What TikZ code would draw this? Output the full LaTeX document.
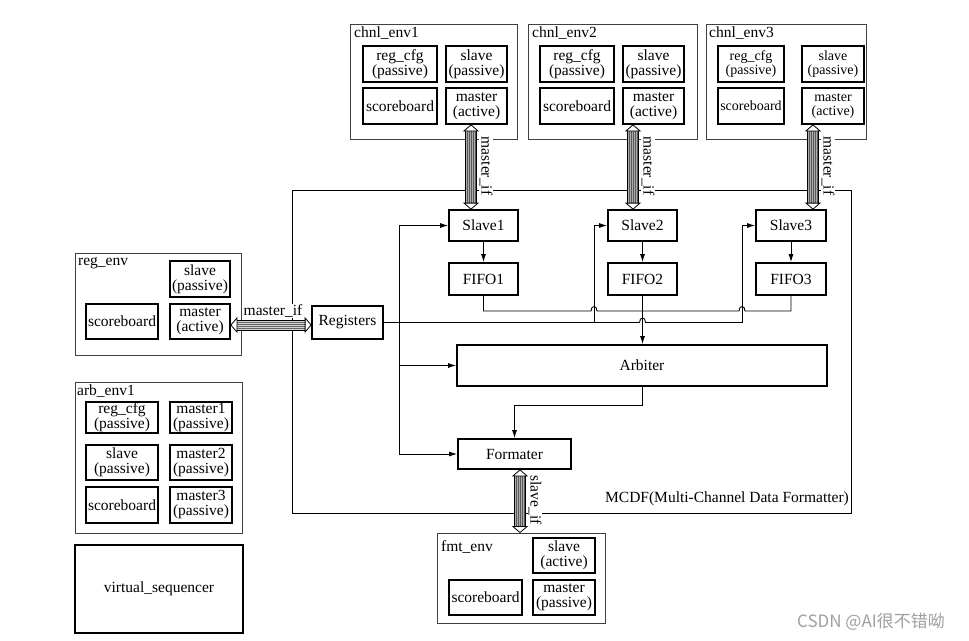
\documentclass[tikz,border=0pt]{standalone}
\usepackage{fontspec}
\setmainfont{Liberation Serif}
\newfontfamily\cjk{Noto Sans CJK SC}
\usetikzlibrary{arrows.meta,calc}
\newcommand\fs{\fontsize{15.5}{15}\selectfont}
\newcommand\fss{\fontsize{14}{14}\selectfont}
\newcommand\bx[7][]{%
  \node[#1, minimum width={(#5)-(#3)}, minimum height={(#6)-(#4)}] (#2) at ({((#3)+(#5))/2},{((#4)+(#6))/2}) {#7};}
\newcommand\vbus[3]{%
  \coordinate (vbx) at (#3,0);
  \coordinate (vbT) at (#1.south -| vbx);
  \coordinate (vbB) at (#2.north -| vbx);
  \fill[gray!65] ($(vbT)+(-5.5,6)$) rectangle ($(vbB)+(5.5,-6)$);
  \foreach \dx in {-3.5,-1.5,0.5,2.5,4.5}{\draw[black!65,line width=0.5pt] ($(vbT)+(\dx,6)$) -- ($(vbB)+(\dx,-6)$);}
  \draw[line width=0.8pt] ($(vbT)+(-5.5,6)$) -- ($(vbB)+(-5.5,-6)$) ($(vbT)+(5.5,6)$) -- ($(vbB)+(5.5,-6)$);
  \draw[fill=white,line width=0.8pt] (vbT) -- ($(vbT)+(7,6)$) -- ($(vbT)+(-7,6)$) -- cycle;
  \draw[fill=white,line width=0.8pt] (vbB) -- ($(vbB)+(7,-6)$) -- ($(vbB)+(-7,-6)$) -- cycle;}
\newcommand\hbus[3]{%
  \coordinate (hby) at (0,#3);
  \coordinate (hbL) at (#1.east |- hby);
  \coordinate (hbR) at (#2.west |- hby);
  \fill[gray!35] ($(hbL)+(6,-5)$) rectangle ($(hbR)+(-6,5)$);
  \foreach \dy in {-3,-1,1,3}{\draw[black!60,line width=0.5pt] ($(hbL)+(6,\dy)$) -- ($(hbR)+(-6,\dy)$);}
  \draw[line width=0.8pt] ($(hbL)+(6,-5)$) -- ($(hbR)+(-6,-5)$) ($(hbL)+(6,5)$) -- ($(hbR)+(-6,5)$);
  \draw[fill=white,line width=0.8pt] (hbL) -- ($(hbL)+(6,-7)$) -- ($(hbL)+(6,7)$) -- cycle;
  \draw[fill=white,line width=0.8pt] (hbR) -- ($(hbR)+(-6,-7)$) -- ($(hbR)+(-6,7)$) -- cycle;}
\tikzset{
  ibox/.style={draw, line width=1.8pt, align=center, inner sep=0pt, font=\fs},
  ibs/.style={ibox, font=\fss},
  ebox/.style={draw=black!75, line width=0.9pt},
  lab/.style={anchor=north west, inner sep=0pt, font=\fs},
  vlab/.style={rotate=-90, fill=white, inner sep=1pt, font=\fs},
  conn/.style={line width=0.9pt, -{Latex[length=8pt,width=5pt]}},
  wire/.style={line width=0.9pt},
}
\begin{document}
\begin{tikzpicture}[x=1pt,y=-1pt]
\useasboundingbox (0,0) rectangle (969,640);
% outer environment boxes
\bx[ebox]{c1}{350}{24}{517}{139}{}
\bx[ebox]{c2}{528}{24}{697}{139}{}
\bx[ebox]{c3}{706}{24}{866}{139}{}
\bx[ebox]{re}{75}{253}{241}{355}{}
\bx[ebox]{ae}{75}{382}{242}{533}{}
\bx[ebox]{fe}{437}{533}{605}{623}{}
\draw[line width=0.9pt] (292,190) rectangle (851,513);
\node[lab] (c1l) at (354,27) {chnl\_env1};
\node[lab] (c2l) at (532,27) {chnl\_env2};
\node[lab] (c3l) at (709,27) {chnl\_env3};
\node[lab] (rel) at (78,257) {reg\_env};
\node[lab] (ael) at (77,385) {arb\_env1};
\node[lab] (fel) at (441,540) {fmt\_env};
% chnl_env1
\bx[ibox]{c1r}{363}{46}{437}{82}{reg\_cfg\\(passive)}
\bx[ibox]{c1s}{446}{46}{507}{82}{slave\\(passive)}
\bx[ibox]{c1b}{363}{88}{437}{124}{scoreboard}
\bx[ibox]{c1m}{446}{88}{507}{124}{master\\(active)}
% chnl_env2
\bx[ibox]{c2r}{540}{46}{614}{82}{reg\_cfg\\(passive)}
\bx[ibox]{c2s}{623}{46}{684}{82}{slave\\(passive)}
\bx[ibox]{c2b}{540}{88}{614}{124}{scoreboard}
\bx[ibox]{c2m}{623}{88}{684}{124}{master\\(active)}
% chnl_env3
\bx[ibs]{c3r}{718}{46}{784}{82}{reg\_cfg\\(passive)}
\bx[ibs]{c3s}{802}{46}{864}{82}{slave\\(passive)}
\bx[ibs]{c3b}{718}{88}{784}{124}{scoreboard}
\bx[ibs]{c3m}{802}{88}{864}{124}{master\\(active)}
% reg_env
\bx[ibox]{res}{170}{261}{230}{297}{slave\\(passive)}
\bx[ibox]{reb}{86}{304}{158}{339}{scoreboard}
\bx[ibox]{rem}{170}{304}{230}{339}{master\\(active)}
% arb_env1
\bx[ibox]{ar}{86}{402}{158}{433}{reg\_cfg\\(passive)}
\bx[ibox]{am1}{170}{402}{232}{433}{master1\\(passive)}
\bx[ibox]{as}{86}{445}{158}{480}{slave\\(passive)}
\bx[ibox]{am2}{170}{445}{232}{480}{master2\\(passive)}
\bx[ibox]{ab}{86}{487}{158}{523}{scoreboard}
\bx[ibox]{am3}{170}{487}{232}{523}{master3\\(passive)}
% virtual sequencer
\bx[ibox]{vs}{75}{545}{243}{633}{virtual\_sequencer}
% fmt_env
\bx[ibox]{fs}{533}{538}{595}{573}{slave\\(active)}
\bx[ibox]{fb}{449}{580}{522}{615}{scoreboard}
\bx[ibox]{fm}{533}{580}{595}{615}{master\\(passive)}
% MCDF internals
\bx[ibox]{s1}{449}{210}{518}{241}{Slave1}
\bx[ibox]{s2}{608}{210}{677}{241}{Slave2}
\bx[ibox]{s3}{756}{210}{826}{241}{Slave3}
\bx[ibox]{f1}{449}{263}{518}{295}{FIFO1}
\bx[ibox]{f2}{608}{263}{677}{295}{FIFO2}
\bx[ibox]{f3}{756}{263}{826}{295}{FIFO3}
\bx[ibox]{reg}{312}{306}{383}{339}{Registers}
\bx[ibox]{arb}{457}{345}{827}{386}{Arbiter}
\bx[ibox]{fmt}{458}{439}{571}{469}{Formater}
\node[anchor=east, inner sep=1pt, font=\fs] (mcdf) at (850,499) {MCDF(Multi-Channel Data Formatter)};
% connectors
\draw[conn] (s1.south) -- (f1.north);
\draw[conn] (s2.south) -- (f2.north);
\draw[conn] (s3.south) -- (f3.north);
\coordinate (fj) at (642.5,311);
\draw[wire] (f1.south) |- (591,311) .. controls (591,305) and (597,305) .. (597,311) -- (fj);
\draw[wire] (f3.south) |- (745,311) .. controls (745,305) and (739,305) .. (739,311) -- (fj);
\draw[conn] (f2.south) -- (f2.south |- arb.north);
\coordinate (r1) at (399,322.5);
\coordinate (r2) at (594,322.5);
\coordinate (r3) at (742,322.5);
\draw[wire] (reg.east) -- (639.5,322.5) .. controls (639.5,316.5) and (645.5,316.5) .. (645.5,322.5) -- (r3);
\draw[conn] (r3) |- (s3.west);
\draw[conn] (r2) |- (s2.west);
\draw[conn] (r1) |- (s1.west);
\draw[conn] (r1) |- (fmt.west);
\draw[conn] (r1 |- arb.west) -- (arb.west);
\draw[conn] (arb.south) -- ++(0,19) -| (fmt.north);
% buses
\vbus{c1m}{s1}{471}
\vbus{c2m}{s2}{633}
\vbus{c3m}{s3}{813}
\vbus{fmt}{fe}{520}
\hbus{rem}{reg}{325}
\node[vlab] (l1) at (486,166) {master\_if};
\node[vlab] (l2) at (648,166) {master\_if};
\node[vlab] (l3) at (828,166) {master\_if};
\node[vlab] (l4) at (535,500) {slave\_if};
\node[fill=white, inner sep=1pt, font=\fs] (l5) at (273,311) {master\_if};
\node[font=\cjk\fontsize{17}{17}\selectfont, text=gray!75, inner sep=0pt] (wm) at (871,622) {CSDN @AI很不错呦};
\end{tikzpicture}
\end{document}
